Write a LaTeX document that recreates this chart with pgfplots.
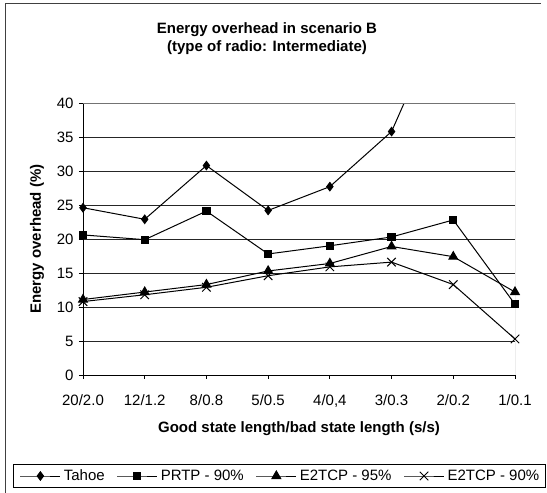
\documentclass[border=0pt]{standalone}
\usepackage{fontspec}
\setmainfont{Liberation Sans}
\usepackage{pgfplots}
\pgfplotsset{compat=1.18}
\begin{document}
\begin{tikzpicture}[x=1pt,y=1pt]
\useasboundingbox (0,0) rectangle (547,493);
\draw[black!75, line width=0.8pt] (5,-10) -- (5,490) -- (541,490);
\begin{axis}[
  at={(83pt,118pt)}, anchor=south west,
  width=432pt, height=272pt, scale only axis,
  xmin=0, xmax=7, ymin=0, ymax=40,
  xtick={0,...,7},
  xticklabels={20/2.0,12/1.2,8/0.8,5/0.5,{4/0,4},3/0.3,2/0.2,1/0.1},
  ytick={0,5,...,40},
  axis lines=left, axis line style={-, line width=0.9pt, black},
  tick align=outside, major tick length=4pt,
  tick style={black, line width=0.8pt},
  ymajorgrids, grid style={black!85, line width=0.7pt},
  /pgf/number format/assume math mode=true,
  tick label style={font=\fontsize{15}{18}\selectfont},
  xticklabel style={yshift=-12pt},
  yticklabel style={xshift=-2pt},
  title={\textbf{Energy overhead in scenario B}\\\textbf{(type of radio: Intermediate)}},
  title style={at={(axis description cs:0.5,1)}, yshift=58pt, xshift=-32pt, anchor=center, align=center, font=\fontsize{15}{18}\selectfont},
  xlabel={\textbf{Good state length/bad state length (s/s)}},
  xlabel style={at={(axis description cs:0.5,0)}, yshift=-54pt, anchor=center, font=\fontsize{15}{18}\selectfont},
  ylabel={\textbf{Energy overhead (\%)}},
  ylabel style={at={(axis description cs:-0.1065,0.5)}, anchor=center, font=\fontsize{15}{18}\selectfont},
  legend columns=4,
  legend style={at={(axis description cs:0.455,0)}, yshift=-101pt, anchor=center,
    draw=black, line width=0.8pt, font=\fontsize{15}{18}\selectfont,
    inner xsep=6pt, inner ysep=3pt,
    nodes={inner xsep=0pt}},
  legend image code/.code={\draw[mark repeat=2,mark phase=2,#1] plot coordinates {(0pt,0pt) (20pt,0pt) (40pt,0pt)};},
]
\addplot[black, line width=1pt, mark=diamond*, mark size=4.2pt, mark options={solid, fill=black}] coordinates {(0,24.6) (1,22.9) (2,30.8) (3,24.2) (4,27.7) (5,35.8) (6,56.4) (7,80)};
\addlegendentry{\rule{3pt}{0pt}Tahoe\rule{12pt}{0pt}}
\addplot[black, line width=1pt, mark=square*, mark size=3.6pt, mark options={solid, fill=black}] coordinates {(0,20.6) (1,19.9) (2,24.1) (3,17.8) (4,19.0) (5,20.3) (6,22.8) (7,10.4)};
\addlegendentry{\rule{3pt}{0pt}PRTP - 90\%\rule{12pt}{0pt}}
\addplot[black, line width=1pt, mark=triangle*, mark size=5pt, mark options={solid, fill=black}] coordinates {(0,11.1) (1,12.2) (2,13.3) (3,15.3) (4,16.4) (5,18.9) (6,17.4) (7,12.2)};
\addlegendentry{\rule{3pt}{0pt}E2TCP - 95\%\rule{12pt}{0pt}}
\addplot[black, line width=1pt, mark=x, mark size=6pt, mark options={solid}] coordinates {(0,10.8) (1,11.8) (2,12.9) (3,14.6) (4,15.9) (5,16.6) (6,13.3) (7,5.3)};
\addlegendentry{\rule{3pt}{0pt}E2TCP - 90\%}
\draw[black!55, line width=0.8pt] (rel axis cs:0,1) -- (rel axis cs:1,1) -- (rel axis cs:1,0);
\end{axis}
\end{tikzpicture}
\end{document}
